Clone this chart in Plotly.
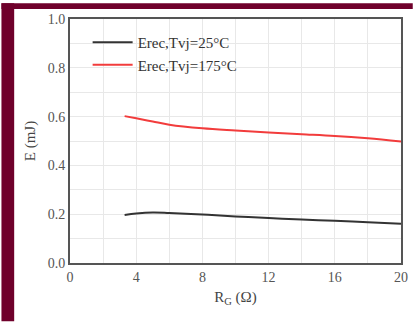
import plotly.graph_objects as go

rg = [3.3, 4, 5, 6, 8, 10, 12, 14, 16, 18, 20]
erec_25 = [0.197, 0.203, 0.207, 0.205, 0.199, 0.191, 0.184, 0.178, 0.173, 0.167, 0.161]
erec_175 = [0.602, 0.593, 0.580, 0.567, 0.552, 0.543, 0.535, 0.528, 0.521, 0.511, 0.498]
names = ["Erec,Tvj=25°C", "Erec,Tvj=175°C"]

FONT = "Liberation Serif"
W, H = 420, 322
L, R, T, B = 70, 12, 16, 59
pw, ph = W - L - R, H - T - B

def px_x(p):
    return (p - L) / pw

def px_y(p):
    return (H - B - p) / ph

fig = go.Figure()
fig.add_trace(go.Scatter(x=rg, y=erec_25, mode="lines", name=names[0],
                         line=dict(color="#333333", width=2, shape="spline")))
fig.add_trace(go.Scatter(x=rg, y=erec_175, mode="lines", name=names[1],
                         line=dict(color="#f23c3c", width=2, shape="spline")))

maroon = "#6f002b"
fig.update_layout(
    width=W, height=H,
    margin=dict(l=L, r=R, t=T, b=B),
    paper_bgcolor="white", plot_bgcolor="white",
    font=dict(family=FONT, size=14, color="#555555"),
    showlegend=True,
    legend=dict(x=px_x(88), y=px_y(23), xanchor="left", yanchor="top",
                bgcolor="rgba(255,255,255,0)", borderwidth=0,
                font=dict(family=FONT, size=15, color="#333333"),
                tracegroupgap=0, itemwidth=40),
    shapes=[
        dict(type="rect", xref="paper", yref="paper", layer="below",
             x0=px_x(0), x1=px_x(13), y0=px_y(H), y1=px_y(0),
             fillcolor=maroon, line=dict(width=0)),
        dict(type="rect", xref="paper", yref="paper", layer="below",
             x0=px_x(0), x1=px_x(W), y0=px_y(6), y1=px_y(0),
             fillcolor=maroon, line=dict(width=0)),
    ],
)
fig.update_xaxes(range=[0, 20], tick0=0, dtick=4, showgrid=True, gridcolor="#e8e8e8",
                 gridwidth=1, minor=dict(dtick=2, showgrid=True, gridcolor="#e8e8e8"),
                 showline=True, linecolor="#555555", linewidth=2, mirror=True,
                 ticks="", zeroline=False,
                 title=dict(text="R<sub>G</sub> (Ω)", font=dict(family=FONT, size=15, color="#444444"),
                            standoff=8))
fig.update_yaxes(range=[0, 1], tick0=0, dtick=0.2, tickformat=".1f", showgrid=True,
                 gridcolor="#e8e8e8", gridwidth=1,
                 minor=dict(dtick=0.1, showgrid=True, gridcolor="#e8e8e8"),
                 showline=True, linecolor="#555555", linewidth=2, mirror=True,
                 ticks="", zeroline=False,
                 title=dict(text="E (mJ)", font=dict(family=FONT, size=15, color="#444444"),
                            standoff=8))

fig.write_html("out.html", config={"displayModeBar": False},
               post_script="document.body.style.margin='0';document.body.style.overflow='hidden';")
